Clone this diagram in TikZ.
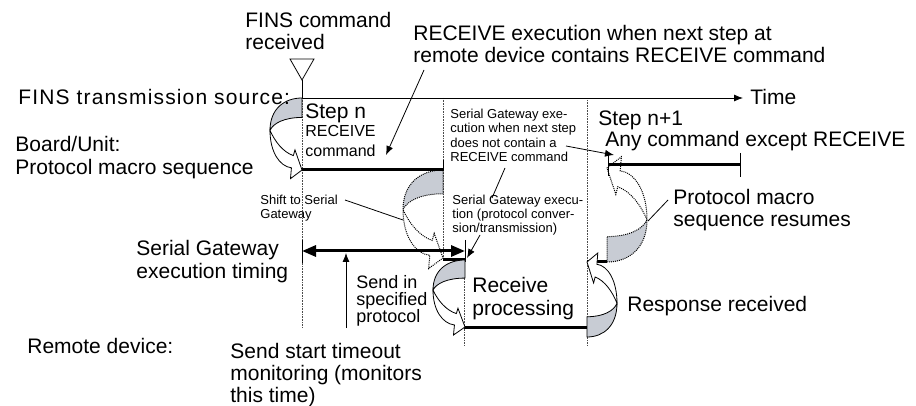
\documentclass[tikz,border=0pt]{standalone}
\usepackage{fontspec}
\setmainfont{Liberation Sans}
\usetikzlibrary{arrows.meta}
\definecolor{cribbon}{RGB}{200,204,212}

% twisted U-turn arrow: start edge at (#1,#2), bulge #3, height #4, style #5
\newcommand{\uturnarrow}[5]{%
  \begin{scope}[shift={(#1,#2)},xscale=#3,yscale=#4]
    \filldraw[#5,fill=cribbon] (0,0) .. controls (-0.55,0) and (-1,0.15) .. (-1,0.45)
      .. controls (-0.9,0.35) and (-0.55,0.27) .. (0,0.27) -- cycle;
    \filldraw[#5,fill=white] (-1,0.45) .. controls (-1,0.75) and (-0.7,0.95) .. (-0.33,0.97)
      -- (-0.36,1.12) -- (0,1) -- (-0.22,0.72) -- (-0.27,0.8)
      .. controls (-0.6,0.75) and (-0.85,0.6) .. (-1,0.45) -- cycle;
  \end{scope}}

\begin{document}
\begin{tikzpicture}[x=1pt,y=-1pt,>={Latex[length=9pt,width=7pt]},line width=0.8pt]
  \tikzstyle{big}=[inner sep=0pt,anchor=base west,align=left,font=\fontsize{21}{22.5}\selectfont]
  \tikzstyle{mid}=[big,font=\fontsize{18}{17.5}\selectfont]
  \tikzstyle{midc}=[big,font=\fontsize{16}{20}\selectfont]
  \tikzstyle{small}=[big,font=\fontsize{13}{14.5}\selectfont]
  \tikzstyle{guide}=[densely dotted,line width=0.6pt,black!70]
  \tikzstyle{period}=[line width=3pt]
  \tikzstyle{shadow}=[densely dotted,line width=1pt]
  \useasboundingbox (0,0) rectangle (916,406);

  % guide lines
  \draw[guide] (302,98) -- (302,328);
  \draw[guide] (443,98) -- (443,260);
  \draw[guide] (464,260) -- (464,345);
  \draw[guide] (587,100) -- (587,345);

  % hidden switching arrows
  \uturnarrow{443}{170}{40}{88}{shadow}
  \uturnarrow{607}{262}{-40}{-94}{shadow}

  % FINS command mark and time axis
  \coordinate (t0) at (302,98);
  \draw (290,59) -- (314,59) -- (302,80) -- cycle;
  \draw (302,80) -- (t0);
  \node[big] (time) at (750,105) {Time};
  \draw[->] (t0) -- (t0 -| time.west) [shorten >=7pt];

  % board / unit
  \coordinate (b0) at (302,170);
  \coordinate (b1) at (443,170);
  \draw[period] (b0) -- (b1);
  \draw (443,160) -- (443,171);
  \coordinate (n0) at (608,165);
  \coordinate (n1) at (740,165);
  \draw[period] (n0) -- (n1);
  \draw (608,154) -- (608,176);
  \draw (740,153) -- (740,177);

  % serial gateway
  \coordinate (g0) at (302,251);
  \coordinate (g1) at (465,251);
  \draw[period,{Triangle[length=14pt,width=11pt]}-{Triangle[length=14pt,width=11pt]}] (g0) -- (g1);
  \draw (302,240) -- (302,263);
  \draw (465,240) -- (465,262);
  \draw[period] (443,260) -- (465,260);

  % remote device
  \coordinate (r0) at (464,327);
  \coordinate (r1) at (587,327);
  \draw[period] (r0) -- (r1);
  \draw[period] (587,262) -- (607,262);

  % visible switching arrows
  \uturnarrow{302}{98}{32}{72}{}
  \uturnarrow{465}{260}{32}{67}{}
  \uturnarrow{587}{337}{-30}{-75}{}

  % labels (anchored at the base line of the last line)
  \node[big,font=\fontsize{21}{22}\selectfont] (fcmd) at (245,50) {FINS command\\received};
  \node[big] (rxnote) at (413,63) {RECEIVE execution when next step at\\remote device contains RECEIVE command};
  \node[big,font=\fontsize{21}{22}\selectfont\addfontfeature{LetterSpace=5.5}] (src) at (18,105) {FINS transmission source:};
  \node[big] (stepn) at (305,119) {Step n};
  \node[midc] (rxcmd) at (305,157) {RECEIVE\\command};
  \node[small] (gwnote) at (450,162) {Serial Gateway exe-\\cution when next step\\does not contain a\\RECEIVE command};
  \node[big] (stepn1) at (598,126) {Step n+1};
  \node[big] (anycmd) at (605,147) {Any command except RECEIVE};
  \node[big,font=\fontsize{21}{23}\selectfont] (board) at (15,175) {Board/Unit:\\Protocol macro sequence};
  \node[small,font=\fontsize{13}{14}\selectfont] (shift) at (260,219) {Shift to Serial\\Gateway};
  \node[small,font=\fontsize{13}{14}\selectfont] (conv) at (452,233) {Serial Gateway execu-\\tion (protocol conver-\\sion/transmission)};
  \node[big,font=\fontsize{21}{22}\selectfont] (resume) at (673,227) {Protocol macro\\sequence resumes};
  \node[big,font=\fontsize{21}{23}\selectfont] (timing) at (136,279) {Serial Gateway\\execution timing};
  \node[mid] (sendin) at (356,323) {Send in\\specified\\protocol};
  \node[big,font=\fontsize{21}{23}\selectfont] (rxproc) at (472,315) {Receive\\processing};
  \node[big] (resp) at (627,312) {Response received};
  \node[big] (remote) at (27,353) {Remote device:};
  \node[big,font=\fontsize{21}{22}\selectfont] (sst) at (230,402) {Send start timeout\\monitoring (monitors\\this time)};

  % pointers
  \draw[->] (424,70) -- (386,155);
  \draw[->] (566,146) -- (614,155);
  \draw (505,168) -- (492,198);
  \draw (345,200) -- (403,220);
  \draw[->] (480,235) -- (467,258);
  \draw (668,200) -- (648,221);
  \draw[->] (346,328) -- (346,253);
\end{tikzpicture}
\end{document}
